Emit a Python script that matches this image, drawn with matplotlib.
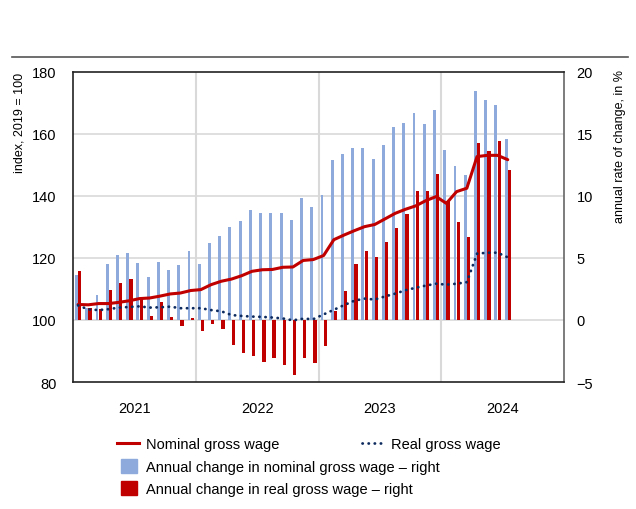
import numpy as np
import matplotlib
matplotlib.use("Agg")
import matplotlib.pyplot as plt
from matplotlib.lines import Line2D
from matplotlib.patches import Patch

plt.rcParams['font.family'] = ['Liberation Sans Narrow', 'Liberation Sans', 'DejaVu Sans']

# monthly data, Jan 2021 - Jul 2024
years = ['2021', '2022', '2023', '2024']
nominal_idx = [105.0, 104.9, 105.3, 105.3, 105.7, 106.2, 106.9, 107.1, 107.7, 108.4, 108.7, 109.5,
               109.8, 111.4, 112.5, 113.2, 114.3, 115.7, 116.2, 116.3, 117.0, 117.1, 119.2, 119.5,
               120.8, 125.9, 127.4, 128.8, 130.1, 130.8, 132.6, 134.4, 135.7, 136.8, 138.5, 139.8,
               137.6, 141.4, 142.5, 152.7, 153.1, 153.1, 151.7]
real_idx = [104.7, 103.4, 103.2, 103.5, 104.0, 104.2, 104.4, 104.0, 104.1, 104.3, 103.8, 103.8,
            103.8, 103.2, 102.8, 101.6, 101.3, 101.1, 101.0, 100.8, 100.5, 99.9, 100.4, 100.3,
            101.8, 103.3, 104.8, 106.2, 106.9, 106.6, 107.6, 108.5, 109.6, 110.4, 111.1, 111.7,
            111.4, 111.7, 112.2, 121.4, 121.7, 121.7, 120.2]
nominal_chg = [3.6, 1.0, 2.0, 4.5, 5.2, 5.4, 4.6, 3.5, 4.7, 4.0, 4.4, 5.6,
               4.5, 6.2, 6.8, 7.5, 8.0, 8.9, 8.6, 8.6, 8.6, 8.1, 9.8, 9.1,
               10.1, 12.9, 13.4, 13.9, 13.9, 13.0, 14.1, 15.6, 15.9, 16.7, 15.8, 16.9,
               13.7, 12.4, 11.7, 18.5, 17.7, 17.3, 14.6]
real_chg = [3.95, 0.94, 0.89, 2.4, 3.0, 3.3, 1.85, 0.33, 1.45, 0.24, -0.46, 0.16,
            -0.86, -0.32, -0.73, -2.0, -2.66, -2.88, -3.36, -3.06, -3.6, -4.4, -3.06, -3.5,
            -2.07, 0.75, 2.37, 4.5, 5.56, 5.08, 6.29, 7.42, 8.55, 10.4, 10.4, 11.77,
            9.6, 7.9, 6.7, 14.27, 13.63, 14.44, 12.1]

blue = '#8eaadc'
red = '#c00000'
navy = '#0d2a5e'
grid = '#d9d9d9'

x = np.arange(len(nominal_idx)) + 0.5

fig = plt.figure(figsize=(6.36, 5.1), dpi=100)
ax = fig.add_axes([0.1148, 0.249, 0.772, 0.608])
ax2 = ax.twinx()

# bars on right axis, lines on left axis drawn above
ax.set_zorder(ax2.get_zorder() + 1)
ax.patch.set_visible(False)

ax2.bar(x - 0.16, nominal_chg, width=0.28, color=blue, zorder=2)
ax2.bar(x + 0.16, real_chg, width=0.32, color=red, zorder=3)
ax2.set_ylim(-5, 20)
ax2.set_yticks([-5, 0, 5, 10, 15, 20])
ax2.set_yticklabels(['\u22125', '0', '5', '10', '15', '20'])

ax.plot(x, nominal_idx, color=red, lw=2.2, zorder=4, solid_capstyle='round')
ax.plot(x, real_idx, color=navy, lw=2.0, linestyle=(0, (0.1, 2.1)),
        dash_capstyle='round', zorder=5)
ax.set_ylim(80, 180)
ax.set_yticks([80, 100, 120, 140, 160, 180])
ax.set_xlim(0, 48)

# grid
for yv in [100, 120, 140, 160]:
    ax2.axhline((yv - 100) / 4, color=grid, lw=1.2, zorder=0)
for xv in [12, 24, 36]:
    ax2.axvline(xv, color=grid, lw=1.5, zorder=0)

ax.set_xticks([6, 18, 30, 42])
ax.set_xticklabels(years)
for a in (ax, ax2):
    a.tick_params(axis='both', length=0, labelsize=10.5, pad=7)
ax.tick_params(axis='x', pad=14)
ax.tick_params(axis='y', pad=12)
ax2.tick_params(axis='y', pad=9)

for s in ['left', 'top', 'bottom']:
    ax.spines[s].set_color('#222222')
    ax.spines[s].set_linewidth(1.2)
ax.spines['right'].set_visible(False)
for s in ['left', 'top', 'bottom']:
    ax2.spines[s].set_visible(False)
ax2.spines['right'].set_color('#666666')
ax2.spines['right'].set_linewidth(1.2)

fig.text(0.031, 0.857, 'index, 2019 = 100', rotation=90, ha='center', va='top', fontsize=9)
fig.text(0.975, 0.862, 'annual rate of change, in %', rotation=90, ha='center', va='top', fontsize=9)

# top rule
fig.add_artist(Line2D([0.019, 0.987], [0.886, 0.886], color='#555555', lw=1.2))

# legend
h1 = Line2D([], [], color=red, lw=2.2)
h2 = Line2D([], [], color=navy, lw=2.0, linestyle=(0, (0.1, 2.1)), dash_capstyle='round')
h3 = Patch(color=blue)
h4 = Patch(color=red)
leg1 = fig.legend([h1], ['Nominal gross wage'], loc='center left', bbox_to_anchor=(0.184, 0.127),
                  frameon=False, fontsize=10.5, handlelength=1.5, handletextpad=0.5,
                  borderpad=0, borderaxespad=0)
leg2 = fig.legend([h2], ['Real gross wage'], loc='center left', bbox_to_anchor=(0.569, 0.127),
                  frameon=False, fontsize=10.5, handlelength=1.5, handletextpad=0.5,
                  borderpad=0, borderaxespad=0)
leg3 = fig.legend([h3, h4], ['Annual change in nominal gross wage \u2013 right',
                             'Annual change in real gross wage \u2013 right'],
                  loc='upper left', bbox_to_anchor=(0.19, 0.0985),
                  frameon=False, fontsize=10.5, handlelength=1.1, handleheight=1.1,
                  handletextpad=0.6, labelspacing=0.5, borderpad=0, borderaxespad=0)

fig.savefig('out.png', dpi=100)
